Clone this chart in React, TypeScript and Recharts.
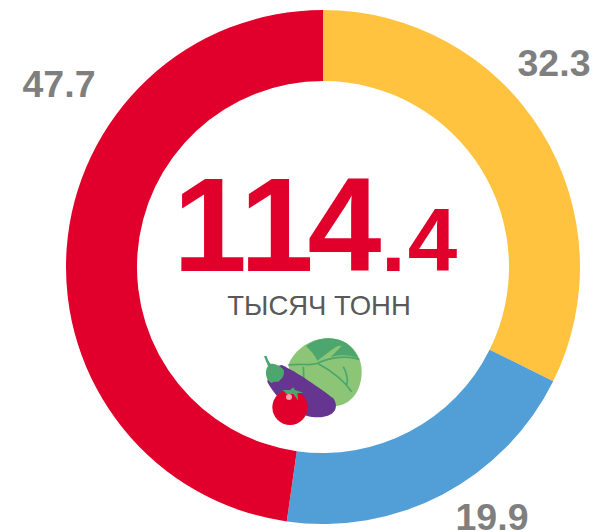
import React from "react";
import { PieChart, Pie, Cell } from "recharts";

const names = ["yellow", "blue", "red"];
const values = [32.3, 19.9, 47.7];
const colors = ["#FFC33F", "#529FD8", "#E1002B"];
const valueLabels = ["32.3", "19.9", "47.7"];
const labelPos = [
  { x: 554, y: 76 },
  { x: 492, y: 530 },
  { x: 59, y: 97 },
];
const totalMain = "114";
const totalDec = ".4";
const unit = "ТЫСЯЧ ТОНН";

const data = names.map((name, i) => ({ name, value: values[i] }));
const FONT = "'Liberation Sans', Arial, sans-serif";

function VeggieIcon() {
  return (
    <svg width={130} height={100} viewBox="0 0 390 300" style={{ position: "absolute", left: 240, top: 330 }}>
      <path d="M145 105 C165 55 215 25 265 25 C325 25 365 70 365 125 C365 185 330 228 280 228 C215 225 160 170 145 105 Z" fill="#8CC576" />
      <path d="M198 48 C225 28 250 25 268 25 C310 25 340 50 355 85 C330 75 300 72 272 82 L305 48 C290 42 270 65 232 92 C225 75 210 60 198 48 Z" fill="#4CA66E" />
      <path d="M145 105 C190 100 215 108 232 100 C275 78 325 78 358 88 M232 100 C270 120 310 150 335 185 M190 110 L192 165 M310 110 C320 130 325 150 320 165" stroke="#4CA66E" strokeWidth={5} fill="none" />
      <path d="M125 105 C170 125 240 175 280 205 C300 235 280 262 235 262 C170 262 110 210 82 155 C85 130 100 110 125 105 Z" fill="#66358F" />
      <path d="M72 78 C76 90 80 98 84 108 C72 125 78 150 95 160 C103 150 115 160 118 152 C130 145 135 130 130 118 C118 105 100 98 92 102 C86 95 82 85 80 78 Z" fill="#4CA66E" />
      <circle cx={150} cy={232} r={53} fill="#E1002B" />
      <circle cx={147} cy={201} r={9} fill="#F5A0AC" />
      <path d="M128 180 L150 180 L160 172 L165 180 L190 188 L172 190 L175 212 L160 192 L140 192 Z" fill="#4CA66E" />
    </svg>
  );
}

export default function App() {
  return (
    <div style={{ position: "absolute", left: 0, top: 0, width: 595, height: 532, overflow: "hidden", background: "#fff" }}>
      <PieChart width={595} height={532} margin={{ top: 0, right: 0, bottom: 0, left: 0 }}>
        <Pie
          data={data}
          dataKey="value"
          cx={323}
          cy={267}
          innerRadius={186}
          outerRadius={257}
          startAngle={90}
          endAngle={-270}
          stroke="none"
          paddingAngle={0}
          isAnimationActive={false}
          labelLine={false}
          label={({ index }: { index: number }) => (
            <text
              x={labelPos[index].x}
              y={labelPos[index].y}
              textAnchor="middle"
              fontFamily={FONT}
              fontWeight={700}
              fontSize={37.5}
              fill="#7F7F7F"
            >
              {valueLabels[index]}
            </text>
          )}
        >
          {data.map((d, i) => (
            <Cell key={d.name} fill={colors[i]} />
          ))}
        </Pie>
      </PieChart>
      <svg width={595} height={532} style={{ position: "absolute", left: 0, top: 0 }}>
        <text x={173} y={271} dx="0 0 -6" fontFamily={FONT} fontWeight={700} fontSize={133} fill="#E1002B">
          {totalMain}
        </text>
        <text x={381} y={271} dx="0 2" fontFamily={FONT} fontWeight={700} fontSize={89} fill="#E1002B">
          {totalDec}
        </text>
        <text x={319} y={315} textAnchor="middle" fontFamily={FONT} fontSize={27.5} fill="#595959">
          {unit}
        </text>
      </svg>
      <VeggieIcon />
    </div>
  );
}
